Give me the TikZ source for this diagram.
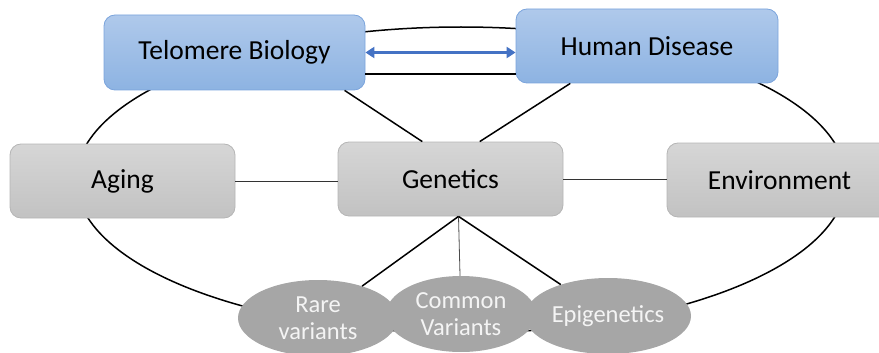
\documentclass[tikz,border=0pt]{standalone}
\usepackage{fontspec}
\setmainfont{Carlito}
\usetikzlibrary{shapes.geometric,arrows.meta}
\definecolor{graytop}{HTML}{D6D6D6}
\definecolor{graybot}{HTML}{C2C2C2}
\definecolor{grayline}{HTML}{B5B5B5}
\definecolor{bluetop}{HTML}{AFC9EB}
\definecolor{bluebot}{HTML}{8DB3E2}
\definecolor{blueline}{HTML}{7BA4DC}
\definecolor{arrowblue}{HTML}{4472C4}
\definecolor{ovalgray}{HTML}{A6A6A6}
\definecolor{ovaltext}{HTML}{F4F4F4}
\begin{document}
\begin{tikzpicture}[x=1pt,y=-1pt]
\tikzstyle{gbox}=[draw=grayline,line width=0.8pt,rounded corners=11pt,top color=graytop,bottom color=graybot,minimum width=225pt,minimum height=74pt,inner sep=0pt,font=\fontsize{27.5}{33}\selectfont]
\tikzstyle{bbox}=[gbox,draw=blueline,top color=bluetop,bottom color=bluebot,minimum width=261pt]
\tikzstyle{oval}=[ellipse,fill=ovalgray,minimum height=76pt,inner sep=0pt,text=ovaltext,align=center,font=\fontsize{24.5}{27}\selectfont]
\tikzstyle{link}=[line width=1.5pt,black]
\useasboundingbox (0,0) rectangle (879,353);
\draw[link] (461,180) ellipse [x radius=385,y radius=153];
\node[bbox,minimum height=75pt] (telo) at (234.5,52.5) {Telomere Biology};
\node[bbox,minimum width=262pt] (hum) at (647,46) {Human Disease};
\node[gbox] (aging) at (122.5,181) {Aging};
\node[gbox] (gen) at (450.5,179) {Genetics};
\node[gbox] (env) at (779.5,180) {Environment};
\node[oval,minimum width=160pt] (rare) at (318,318) {Rare\\variants};
\node[oval,minimum width=150pt] (common) at (461,314) {Common\\Variants};
\node[oval,minimum width=166pt] (epi) at (608,316) {Epigenetics};
\draw[arrowblue,line width=2.6pt,{Triangle[length=9pt,width=11pt]}-{Triangle[length=9pt,width=11pt]}] (telo.east) -- (telo.east -| hum.west);
\draw[link] ([yshift=-21.5pt]telo.east) -- ([yshift=-21.5pt]telo.east -| hum.west);
\draw[link] (telo.-19) -- (gen.127);
\draw[link] (hum.-154) -- (gen.52);
\draw[line width=1pt,black!80] (aging.east) -- (aging.east -| gen.west);
\draw[line width=1pt,black!80] (gen.east) -- (gen.east -| env.west);
\draw[link] ([xshift=8pt]gen.south) -- (rare);
\draw[line width=0.8pt,black!70] ([xshift=8pt]gen.south) -- (common);
\draw[link] ([xshift=8pt]gen.south) -- (epi);
\end{tikzpicture}
\end{document}
